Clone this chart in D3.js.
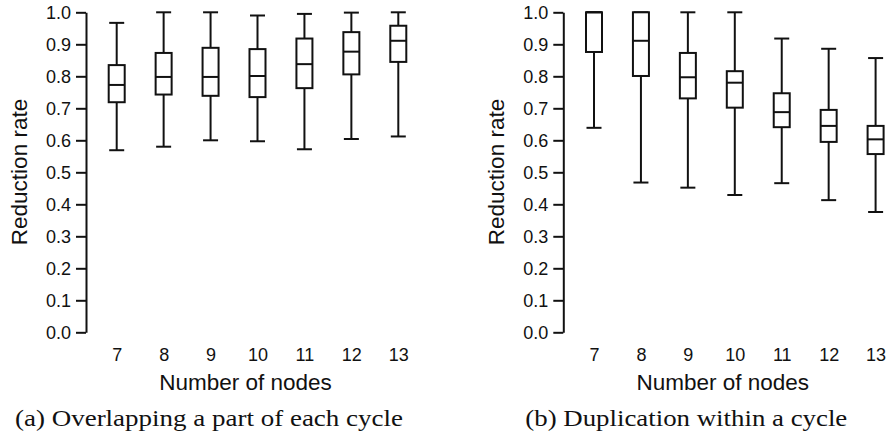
<!DOCTYPE html>
<html>
<head>
<meta charset="utf-8">
<script src="https://cdn.jsdelivr.net/npm/d3@7"></script>
<style>
    body { margin: 0; background: #fff; }
    svg { display: block; }
</style>
</head>
<body>
<svg id="chart" width="888" height="437"></svg>
<script>
var nodes = [7, 8, 9, 10, 11, 12, 13];
var y_ticks = [0, 0.1, 0.2, 0.3, 0.4, 0.5, 0.6, 0.7, 0.8, 0.9, 1.0];

// (a) overlapping a part of each cycle
var a_min = [0.569, 0.580, 0.600, 0.597, 0.572, 0.604, 0.612];
var a_q1 = [0.719, 0.743, 0.739, 0.735, 0.763, 0.806, 0.845];
var a_med = [0.773, 0.798, 0.798, 0.801, 0.838, 0.877, 0.911];
var a_q3 = [0.835, 0.873, 0.889, 0.885, 0.918, 0.938, 0.958];
var a_max = [0.967, 1.000, 1.000, 0.990, 0.995, 0.999, 1.000];

// (b) duplication within a cycle
var b_min = [0.639, 0.468, 0.452, 0.429, 0.466, 0.413, 0.376];
var b_q1 = [0.876, 0.801, 0.731, 0.702, 0.641, 0.595, 0.557];
var b_med = [1.000, 0.911, 0.797, 0.780, 0.688, 0.645, 0.603];
var b_q3 = [1.000, 1.000, 0.873, 0.816, 0.747, 0.695, 0.645];
var b_max = [1.000, 1.000, 1.000, 1.000, 0.918, 0.886, 0.857];

var captions = ["(a) Overlapping a part of each cycle", "(b) Duplication within a cycle"];
var caption_len = [388, 322];

var svg = d3.select("#chart");

var y = d3.scaleLinear().domain([0, 1]).range([332.3, 12.3]);
var x = d3.scaleLinear().domain([7, 13]).range([116.7, 398.3]);

var box_w = 16;
var cap_w = 15;
var sans = "Liberation Sans, Arial, sans-serif";

function draw_panel(offset, mins, q1s, meds, q3s, maxs, caption, cap_len) {
    var g = svg.append("g")
        .attr("transform", "translate(" + offset + ",0)");

    var rows = nodes.map(function (n, i) {
        return { n: n, lo: mins[i], q1: q1s[i], med: meds[i], q3: q3s[i], hi: maxs[i] };
    });

    // y axis
    var y_axis = d3.axisLeft(y)
        .tickValues(y_ticks)
        .tickFormat(d3.format(".1f"))
        .tickSize(10)
        .tickSizeOuter(0)
        .tickPadding(5);

    var ya = g.append("g")
        .attr("transform", "translate(86,0)")
        .call(y_axis);
    ya.selectAll("path, line").attr("stroke", "#111").attr("stroke-width", 2);
    ya.selectAll("text")
        .attr("font-family", sans)
        .attr("font-size", 18)
        .attr("fill", "#111");

    // x labels, no axis line
    var x_axis = d3.axisBottom(x)
        .tickValues(nodes)
        .tickFormat(d3.format("d"))
        .tickSize(0)
        .tickPadding(8);

    var xa = g.append("g")
        .attr("transform", "translate(0,340)")
        .call(x_axis);
    xa.select(".domain").remove();
    xa.selectAll("text")
        .attr("font-family", sans)
        .attr("font-size", 18)
        .attr("fill", "#111");

    var boxes = g.selectAll(".box")
        .data(rows)
        .enter()
        .append("g")
        .attr("class", "box");

    // whiskers
    boxes.append("line")
        .attr("x1", function (d) { return x(d.n); })
        .attr("x2", function (d) { return x(d.n); })
        .attr("y1", function (d) { return y(d.lo); })
        .attr("y2", function (d) { return y(d.hi); })
        .attr("stroke", "#111")
        .attr("stroke-width", 2);

    boxes.selectAll(".cap")
        .data(function (d) { return [{ n: d.n, v: d.lo }, { n: d.n, v: d.hi }]; })
        .enter()
        .append("line")
        .attr("class", "cap")
        .attr("x1", function (d) { return x(d.n) - cap_w / 2; })
        .attr("x2", function (d) { return x(d.n) + cap_w / 2; })
        .attr("y1", function (d) { return y(d.v); })
        .attr("y2", function (d) { return y(d.v); })
        .attr("stroke", "#111")
        .attr("stroke-width", 2);

    boxes.append("rect")
        .attr("x", function (d) { return x(d.n) - box_w / 2; })
        .attr("y", function (d) { return y(d.q3); })
        .attr("width", box_w)
        .attr("height", function (d) { return y(d.q1) - y(d.q3); })
        .attr("fill", "#fff")
        .attr("stroke", "#111")
        .attr("stroke-width", 2);

    boxes.append("line")
        .attr("x1", function (d) { return x(d.n) - box_w / 2; })
        .attr("x2", function (d) { return x(d.n) + box_w / 2; })
        .attr("y1", function (d) { return y(d.med); })
        .attr("y2", function (d) { return y(d.med); })
        .attr("stroke", "#111")
        .attr("stroke-width", 2);

    // titles
    g.append("text")
        .attr("transform", "translate(27,172) rotate(-90)")
        .attr("text-anchor", "middle")
        .attr("font-family", sans)
        .attr("font-size", 22.5)
        .attr("fill", "#111")
        .text("Reduction rate");

    g.append("text")
        .attr("x", 245.5)
        .attr("y", 390)
        .attr("text-anchor", "middle")
        .attr("font-family", sans)
        .attr("font-size", 22.5)
        .attr("fill", "#111")
        .text("Number of nodes");

    g.append("text")
        .attr("x", 209)
        .attr("y", 426)
        .attr("text-anchor", "middle")
        .attr("font-family", "Liberation Serif, DejaVu Serif, serif")
        .attr("font-size", 23)
        .attr("textLength", cap_len)
        .attr("lengthAdjust", "spacingAndGlyphs")
        .attr("fill", "#111")
        .text(caption);
}

draw_panel(0, a_min, a_q1, a_med, a_q3, a_max, captions[0], caption_len[0]);
draw_panel(477.3, b_min, b_q1, b_med, b_q3, b_max, captions[1], caption_len[1]);
</script>
</body>
</html>
